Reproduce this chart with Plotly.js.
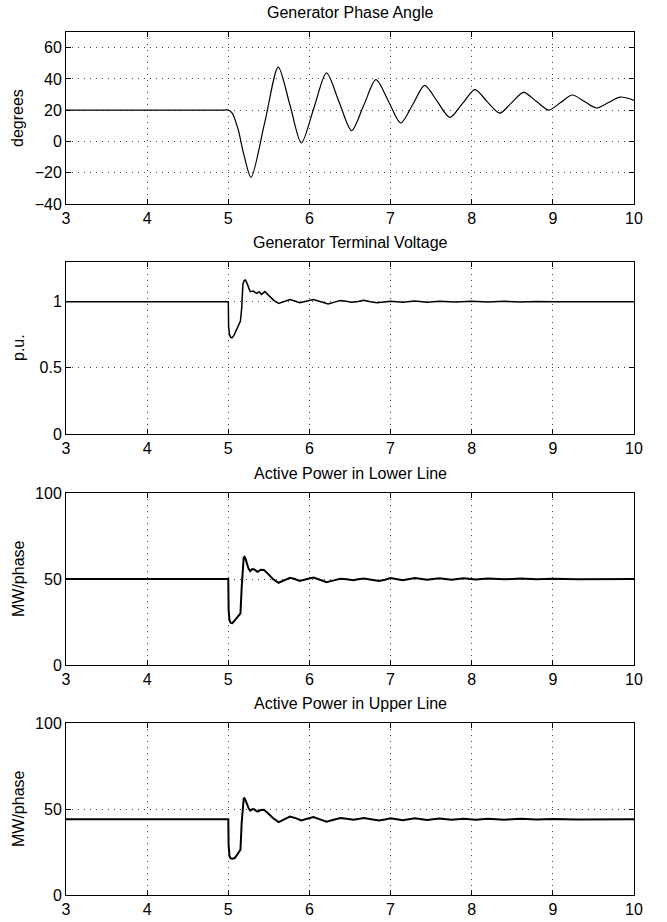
<!DOCTYPE html>
<html>
<head>
<meta charset="utf-8">
<script src="https://cdn.plot.ly/plotly-3.0.1.min.js"></script>
<style>html,body{margin:0;padding:0;background:#fff;}#chart{width:667px;height:922px;}</style>
</head>
<body>
<div id="chart"></div>
<script>
// ---- data ----
const titles = ["Generator Phase Angle", "Generator Terminal Voltage", "Active Power in Lower Line", "Active Power in Upper Line"];
const yLabels = ["degrees", "p.u.", "MW/phase", "MW/phase"];
const xTicks = [3, 4, 5, 6, 7, 8, 9, 10];

const angleT = [3, 4, 4.9, 5.0, 5.05, 5.12, 5.19, 5.28, 5.45, 5.616, 5.76, 5.90, 6.055, 6.21, 6.365, 6.52, 6.67, 6.82, 6.975, 7.125, 7.275, 7.42, 7.575, 7.73, 7.885, 8.04, 8.19, 8.345, 8.49, 8.64, 8.795, 8.95, 9.095, 9.24, 9.39, 9.54, 9.685, 9.83, 10];
const angleV = [20, 20, 20, 20, 18, 8, -8, -23, 12.3, 47.6, 23.3, -1.0, 21.4, 43.8, 25.3, 6.9, 23.2, 39.5, 25.6, 11.8, 23.8, 35.9, 25.6, 15.4, 24.2, 33.1, 25.5, 18.1, 24.7, 31.4, 25.7, 20.1, 24.9, 29.7, 25.5, 21.4, 24.9, 28.4, 26.3];

const voltT = [3, 5.0, 5.004, 5.015, 5.03, 5.045, 5.07, 5.11, 5.15, 5.165, 5.18, 5.195, 5.21, 5.23, 5.25, 5.27, 5.29, 5.31, 5.33, 5.35, 5.38, 5.41, 5.45, 5.48, 5.51, 5.56, 5.62, 5.69, 5.76, 5.82, 5.88, 5.96, 6.05, 6.14, 6.23, 6.3, 6.38, 6.45, 6.52, 6.6, 6.67, 6.75, 6.83, 6.92, 7.0, 7.15, 7.3, 7.45, 7.6, 7.8, 8.0, 8.2, 8.4, 8.6, 8.8, 9.0, 9.3, 9.6, 10];
const voltV = [1.0, 1.0, 0.81, 0.75, 0.73, 0.727, 0.745, 0.80, 0.853, 0.95, 1.13, 1.16, 1.164, 1.14, 1.10, 1.076, 1.078, 1.08, 1.07, 1.063, 1.076, 1.055, 1.076, 1.06, 1.043, 1.01, 0.987, 1.0, 1.017, 1.005, 0.992, 1.004, 1.017, 1.0, 0.982, 0.995, 1.008, 1.003, 0.996, 1.002, 1.01, 1.0, 0.992, 0.998, 1.004, 0.995, 1.006, 0.996, 1.004, 0.997, 1.003, 0.998, 1.003, 0.998, 1.002, 0.999, 1.001, 1.0, 1.0];

const lowerT = [3, 5.0, 5.004, 5.015, 5.03, 5.05, 5.08, 5.12, 5.15, 5.165, 5.18, 5.19, 5.2, 5.215, 5.23, 5.25, 5.27, 5.295, 5.32, 5.34, 5.36, 5.4, 5.44, 5.49, 5.55, 5.62, 5.69, 5.76, 5.82, 5.88, 5.96, 6.05, 6.13, 6.21, 6.3, 6.38, 6.46, 6.54, 6.6, 6.67, 6.76, 6.86, 6.93, 7.0, 7.15, 7.3, 7.45, 7.6, 7.75, 7.9, 8.05, 8.2, 8.4, 8.6, 8.8, 9.0, 9.3, 9.6, 10];
const lowerP = [50, 50, 32, 26, 24.5, 24.3, 26, 28.5, 30, 45, 61, 62.5, 62.9, 61.5, 59, 56, 54.6, 55.8, 55.6, 54.6, 54.2, 55.3, 55.2, 53, 50, 47.8, 49.3, 50.7, 50, 48.9, 49.8, 50.9, 49.6, 48.2, 49.2, 50.2, 49.8, 49.3, 49.8, 50.3, 49.6, 48.8, 49.6, 50.6, 49.3, 50.6, 49.5, 50.5, 49.6, 50.4, 49.7, 50.3, 49.8, 50.3, 49.8, 50.2, 49.9, 50.1, 50];

const upperT = [3, 5.0, 5.004, 5.015, 5.03, 5.05, 5.08, 5.12, 5.15, 5.165, 5.18, 5.19, 5.2, 5.215, 5.23, 5.25, 5.27, 5.295, 5.32, 5.34, 5.36, 5.4, 5.44, 5.49, 5.55, 5.62, 5.69, 5.76, 5.83, 5.9, 5.97, 6.05, 6.13, 6.21, 6.3, 6.38, 6.46, 6.54, 6.6, 6.67, 6.76, 6.86, 6.93, 7.0, 7.15, 7.3, 7.45, 7.6, 7.75, 7.9, 8.05, 8.2, 8.4, 8.6, 8.8, 9.0, 9.3, 9.6, 10];
const upperP = [44, 44, 29, 22.5, 21.3, 21.1, 21.5, 24.5, 26.3, 42, 55.3, 56, 56.3, 55, 53, 50.5, 49.1, 49.8, 49.9, 49.0, 48.5, 49.4, 49.5, 47.5, 44.8, 42.4, 44.0, 45.6, 44.7, 43.3, 44.3, 45.3, 44.0, 42.6, 43.7, 44.7, 44.3, 43.8, 44.2, 44.7, 44.1, 43.3, 43.9, 44.6, 43.5, 44.6, 43.6, 44.5, 43.7, 44.4, 43.8, 44.3, 43.8, 44.3, 43.9, 44.2, 43.9, 44.1, 44];

const yRanges = [[-40, 70], [0, 1.3], [0, 100], [0, 100]];
const yTickVals = [[-40, -20, 0, 20, 40, 60], [0, 0.5, 1], [0, 50, 100], [0, 50, 100]];
// -------------------------------------

const W = 667, H = 922;
const mL = 66, mR = 33, mT = 32, mB = 27;
const plotH = H - mT - mB;
const tops = [32, 262, 493, 723];
const bottoms = [204, 434, 665, 895];
const dom = tops.map((t, i) => [1 - (bottoms[i] - mT) / plotH, 1 - (t - mT) / plotH]);

const FONT = "Liberation Sans, Arial, Helvetica, sans-serif";
const series = [[angleT, angleV, 1.2, 'spline'], [voltT, voltV, 1.5, 'linear'], [lowerT, lowerP, 2, 'linear'], [upperT, upperP, 2, 'linear']];

const traces = series.map((s, i) => ({
  x: s[0], y: s[1], type: 'scatter', mode: 'lines',
  line: {color: '#000', width: s[2], shape: s[3], smoothing: 0.8},
  xaxis: i === 0 ? 'x' : 'x' + (i + 1), yaxis: i === 0 ? 'y' : 'y' + (i + 1),
  hoverinfo: 'skip', showlegend: false
}));

const layout = {
  width: W, height: H,
  margin: {l: mL, r: mR, t: mT, b: mB},
  paper_bgcolor: '#fff', plot_bgcolor: '#fff',
  font: {family: FONT, size: 16, color: '#000'},
  showlegend: false,
  annotations: []
};

const axBase = {
  showline: true, linecolor: '#000', linewidth: 1, mirror: 'ticks',
  ticks: 'inside', ticklen: 5, tickcolor: '#000', tickwidth: 1,
  showgrid: true, gridcolor: '#444', griddash: '1px,5px', gridwidth: 1,
  zeroline: false, tickfont: {family: FONT, size: 16, color: '#000'}
};

for (let i = 0; i < 4; i++) {
  const sfx = i === 0 ? '' : String(i + 1);
  layout['xaxis' + sfx] = Object.assign({}, axBase, {
    domain: [0, 1], anchor: 'y' + sfx, range: [3, 10],
    tickvals: xTicks, ticktext: xTicks.map(String)
  });
  layout['yaxis' + sfx] = Object.assign({}, axBase, {
    domain: dom[i], anchor: 'x' + sfx, range: yRanges[i],
    tickvals: yTickVals[i], ticktext: yTickVals[i].map(v => v < 0 ? '\u2212' + Math.abs(v) : String(v))
  });
  layout.annotations.push({
    text: titles[i], xref: 'paper', yref: 'paper', x: 0.5, y: dom[i][1],
    xanchor: 'center', yanchor: 'bottom', yshift: 9, showarrow: false,
    font: {family: FONT, size: 16, color: '#000'}
  });
  layout.annotations.push({
    text: yLabels[i], xref: 'paper', yref: 'paper', x: 0, y: (dom[i][0] + dom[i][1]) / 2,
    xanchor: 'center', yanchor: 'middle', xshift: -48, textangle: -90, showarrow: false,
    font: {family: FONT, size: 16, color: '#000'}
  });
}

Plotly.newPlot('chart', traces, layout, {staticPlot: true, displayModeBar: false});
</script>
</body>
</html>
